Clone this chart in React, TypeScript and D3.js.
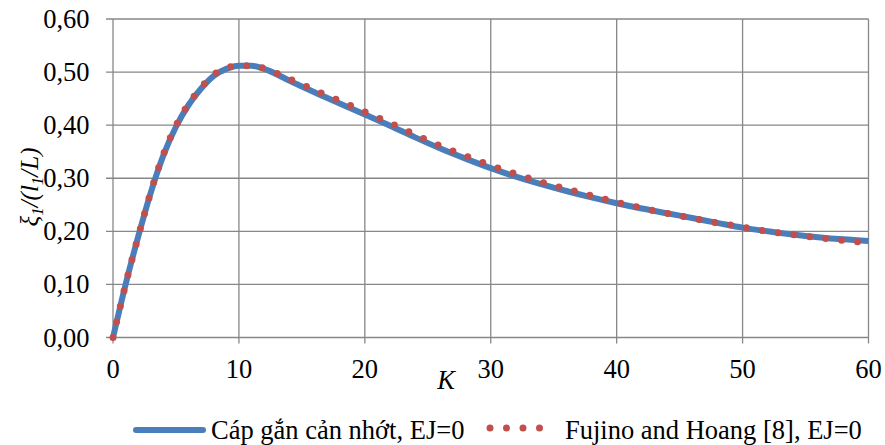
import React from "react";
import * as d3 from "d3";

const kBlue = [0, 1, 2, 3, 4, 5, 6, 7, 8, 9, 10, 11, 12, 13, 14, 15, 16, 18, 20, 22, 24, 26, 28, 30, 32, 34, 36, 38, 40, 42, 44, 46, 48, 50, 52, 54, 56, 58, 60];
const vBlue = [0, 0.1, 0.19, 0.273, 0.343, 0.397, 0.438, 0.469, 0.493, 0.506, 0.512, 0.512, 0.506, 0.496, 0.484, 0.473, 0.462, 0.441, 0.42, 0.399, 0.377, 0.356, 0.337, 0.319, 0.303, 0.289, 0.276, 0.264, 0.253, 0.243, 0.234, 0.225, 0.216, 0.207, 0.2, 0.194, 0.189, 0.185, 0.182];

const kRed = [0, 1, 2, 3, 4, 5, 6, 7, 8, 9, 10, 11, 12, 14, 16, 18, 20, 22, 24, 26, 28, 30, 32, 34, 36, 38, 40, 42, 44, 46, 48, 50, 52, 54, 56, 58, 60];
const vRed = [0, 0.1, 0.19, 0.274, 0.345, 0.399, 0.44, 0.471, 0.495, 0.508, 0.512, 0.512, 0.507, 0.487, 0.466, 0.446, 0.425, 0.404, 0.382, 0.361, 0.342, 0.324, 0.308, 0.293, 0.28, 0.267, 0.255, 0.244, 0.234, 0.225, 0.216, 0.208, 0.2, 0.194, 0.188, 0.183, 0.178];

const xTicks = [0, 10, 20, 30, 40, 50, 60];
const yTicks = [0, 0.1, 0.2, 0.3, 0.4, 0.5, 0.6];
const blueName = "Cáp gắn cản nhớt, EJ=0";
const redName = "Fujino and Hoang [8], EJ=0";

const W = 885, H = 445;
const L = 113, R = 868.5, T = 19, B = 337.5;
const FONT = "Liberation Serif";
const FS = 26.5;
const GRID = "#878787";
const BLUE = "#4A7EBB";
const RED = "#C0504D";

export default function App() {
  const x = d3.scaleLinear().domain([0, 60]).range([L, R]);
  const y = d3.scaleLinear().domain([0, 0.6]).range([B, T]);
  const line = d3.line<[number, number]>().x(d => x(d[0])).y(d => y(d[1])).curve(d3.curveMonotoneX);
  const blue = line(kBlue.map((k, i) => [k, vBlue[i]]) as [number, number][]) || "";
  const red = line(kRed.map((k, i) => [k, vRed[i]]) as [number, number][]) || "";
  const fmt = (v: number) => v.toFixed(2).replace(".", ",");

  return (
    <svg width={W} height={H} style={{ position: "absolute", left: 0, top: 0, background: "#fff" }} fontFamily={FONT}>
      {yTicks.map(t => (
        <g key={"y" + t}>
          <line x1={L - 7} x2={R} y1={y(t)} y2={y(t)} stroke={GRID} strokeWidth={1.3} />
          <text x={89.5} y={y(t)} dy="0.34em" textAnchor="end" fontSize={FS} fill="#000">{fmt(t)}</text>
        </g>
      ))}
      {xTicks.map(t => (
        <g key={"x" + t}>
          <line x1={x(t)} x2={x(t)} y1={T} y2={B + 6} stroke={GRID} strokeWidth={1.3} />
          <text x={x(t)} y={377.5} textAnchor="middle" fontSize={FS} fill="#000">{t}</text>
        </g>
      ))}
      <path d={blue} fill="none" stroke={BLUE} strokeWidth={6} strokeLinejoin="round" />
      <path d={red} fill="none" stroke={RED} strokeWidth={7} strokeLinecap="round" strokeDasharray="0 16" />
      <text x={446} y={389} textAnchor="middle" fontSize={FS} fontStyle="italic" fill="#000">K</text>
      <text transform="translate(38,187) rotate(-90)" textAnchor="middle" fontSize={25} fontStyle="italic" fill="#000">
        ξ<tspan fontSize={17} dy={5}>1</tspan><tspan dy={-5}>/(</tspan>l<tspan fontSize={17} dy={5}>1</tspan><tspan dy={-5}>/L)</tspan>
      </text>
      <line x1={136} x2={203} y1={430} y2={430} stroke={BLUE} strokeWidth={6} strokeLinecap="round" />
      <text x={211} y={438.5} fontSize={FS} fill="#000">{blueName}</text>
      <line x1={490} x2={556} y1={428} y2={428} stroke={RED} strokeWidth={7} strokeLinecap="round" strokeDasharray="0 16.5" />
      <text x={565} y={438.5} fontSize={FS} fill="#000">{redName}</text>
    </svg>
  );
}
